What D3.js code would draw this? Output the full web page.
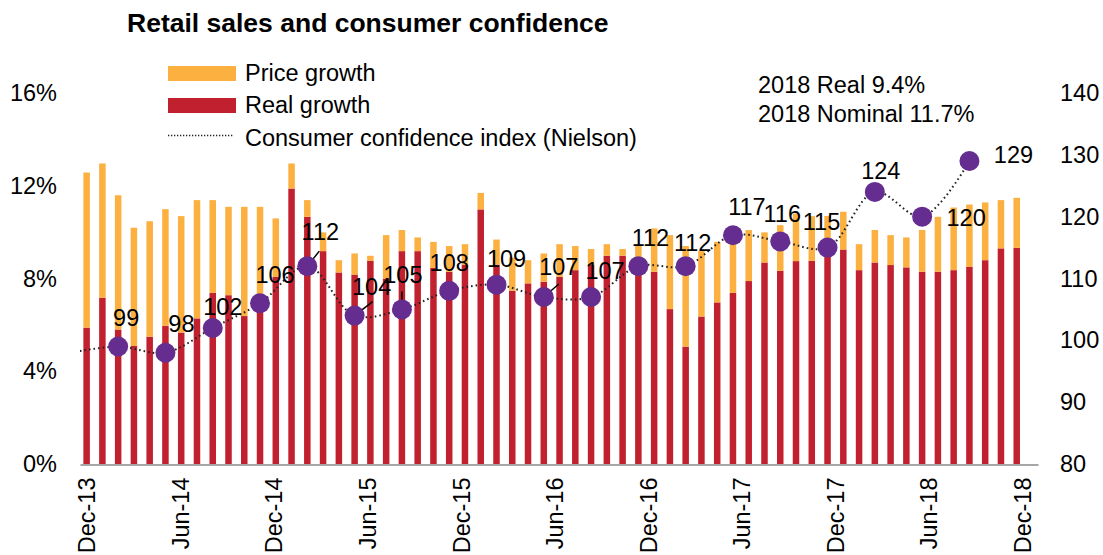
<!DOCTYPE html>
<html>
<head>
<meta charset="utf-8">
<script src="https://cdn.jsdelivr.net/npm/d3@7"></script>
<style>
  body { margin: 0; background: #fff; }
  text { font-family: "Liberation Sans", Arial, sans-serif; fill: #000; }
</style>
</head>
<body>
<svg></svg>
<script>
// chart size
const width = 1103;
const height = 555;
const plotLeft = 80;
const plotRight = 1038;
const plotBottom = 464;
const plotTop = 93;

// monthly bars, Dec-13 .. Nov-18 (%)
const months = d3.utcMonth.range(new Date(Date.UTC(2013, 11, 1)), new Date(Date.UTC(2018, 11, 1)))
    .map(d3.utcFormat("%b-%y"));

const realGrowth = [5.88, 7.17, 5.8, 5.09, 5.49, 5.95, 5.67, 6.28, 7.38, 7.28,
  6.38, 6.6, 8.07, 11.88, 10.66, 9.18, 8.26, 8.17, 8.76, 8.0,
  9.18, 9.18, 8.46, 8.29, 8.6, 10.98, 8.6, 7.47, 7.79, 7.86,
  8.07, 8.36, 8.6, 8.98, 8.98, 8.3, 8.29, 6.68, 5.06, 6.36,
  6.97, 7.38, 7.89, 8.69, 8.33, 8.75, 8.76, 9.3, 9.25, 8.36,
  8.69, 8.58, 8.48, 8.29, 8.29, 8.36, 8.5, 8.79, 9.3, 9.32];

const priceGrowth = [6.69, 5.79, 5.79, 5.1, 4.98, 5.04, 5.02, 5.1, 4.0, 3.81,
  4.71, 4.49, 2.52, 1.08, 0.72, 0.81, 0.53, 0.91, 0.22, 1.87,
  0.91, 0.59, 1.12, 1.11, 0.88, 0.71, 1.08, 1.43, 1.0, 1.22,
  1.41, 1.04, 0.67, 0.5, 0.29, 1.17, 1.87, 3.19, 4.34, 2.82,
  2.61, 2.62, 2.2, 1.3, 1.97, 2.05, 1.93, 1.4, 1.63, 1.12,
  1.4, 1.29, 1.29, 1.8, 2.37, 2.7, 2.69, 2.49, 2.08, 2.16];

// quarterly consumer confidence, plotted at mid-quarter month (Q4-13 .. Q3-18)
const confMonth = [-1, 2, 5, 8, 11, 14, 17, 20, 23, 26, 29, 32, 35, 38, 41, 44, 47, 50, 53, 56];
const confidence = [98, 99, 98, 102, 106, 112, 104, 105, 108, 109, 107, 107, 112, 112, 117, 116, 115, 124, 120, 129];

// label nudges (px) for each quarter point
const labelOffset = [null, [8, -29], [16, -29], [10, -21], [15, -28], [13, -34], [17, -29], [1, -35],
  [0, -28], [10, -26], [15, -30], [14, -26], [12, -28], [7, -23], [14, -28], [2, -28],
  [-6, -26], [6, -21], [44, 1], [44, -6]];
// leader lines for some labels
const leaders = [[5, 12, -15], [6, 18, -14], [7, 0, -18], [10, 15, -13]];

const tickLabels = ["Dec-13", "Jun-14", "Dec-14", "Jun-15", "Dec-15", "Jun-16", "Dec-16", "Jun-17", "Dec-17", "Jun-18", "Dec-18"];
const leftTicks = [0, 4, 8, 12, 16];
const rightTicks = [80, 90, 100, 110, 120, 130, 140];

const colors = { price: "#fbb040", real: "#c1202f", dot: "#662d91" };

const svg = d3.select("svg")
    .attr("width", width)
    .attr("height", height)
    .attr("viewBox", [0, 0, width, height]);

// scales
const x = d3.scaleLinear([-0.42, 60.35], [plotLeft, plotRight]);
const yL = d3.scaleLinear([0, 16], [plotBottom, plotTop]);
const yR = d3.scaleLinear([80, 140], [plotBottom, plotTop]);
const barW = 6.5;
// date labels sit on a slightly tighter spacing than the bars
const xTick = d3.scaleLinear([0, 60], [x(0), x(0) + (x(60) - x(0)) * 0.989]);

// bars
const bars = svg.append("g");
bars.selectAll(".real")
  .data(realGrowth)
  .join("rect")
    .attr("x", (d, i) => x(i) - barW / 2)
    .attr("y", d => yL(d))
    .attr("width", barW)
    .attr("height", d => yL(0) - yL(d))
    .attr("fill", colors.real);
bars.selectAll(".price")
  .data(priceGrowth)
  .join("rect")
    .attr("x", (d, i) => x(i) - barW / 2)
    .attr("y", (d, i) => yL(d + realGrowth[i]))
    .attr("width", barW)
    .attr("height", (d, i) => yL(realGrowth[i]) - yL(d + realGrowth[i]))
    .attr("fill", colors.price);

// x-axis line
svg.append("g")
    .attr("transform", `translate(0,${plotBottom + 0.5})`)
    .call(d3.axisBottom(x).tickValues([]).tickSizeOuter(0))
    .call(g => g.select(".domain").attr("stroke", "#a6a6a6").attr("stroke-width", 2));

// x tick labels
svg.append("g")
    .attr("transform", `translate(0,${plotBottom + 0.5})`)
    .call(d3.axisBottom(xTick).tickValues(d3.range(0, 61, 6)).tickFormat((d, i) => tickLabels[i]).tickSize(0))
    .call(g => g.select(".domain").remove())
    .call(g => g.selectAll(".tick text")
        .attr("font-size", 23.5)
        .attr("text-anchor", "end")
        .attr("transform", "rotate(-90)")
        .attr("x", -13)
        .attr("y", 0)
        .attr("dy", "0.35em"));

// left axis
svg.append("g")
    .attr("transform", `translate(${plotLeft},0)`)
    .call(d3.axisLeft(yL).tickValues(leftTicks).tickFormat(d => d + "%").tickSize(0).tickPadding(23))
    .call(g => g.select(".domain").remove())
    .call(g => g.selectAll("text").attr("font-size", 23.5));

// right axis
svg.append("g")
    .attr("transform", `translate(${plotRight},0)`)
    .call(d3.axisRight(yR).tickValues(rightTicks).tickSize(0).tickPadding(22))
    .call(g => g.select(".domain").remove())
    .call(g => g.selectAll("text").attr("font-size", 23.5));

// confidence line
svg.append("clipPath").attr("id", "plot")
  .append("rect").attr("x", plotLeft).attr("y", 0).attr("width", plotRight - plotLeft).attr("height", height);

const line = d3.line()
    .x((d, i) => x(confMonth[i]))
    .y(d => yR(d))
    .curve(d3.curveCatmullRom.alpha(0.5));

svg.append("path")
    .attr("clip-path", "url(#plot)")
    .attr("d", line(confidence))
    .attr("fill", "none")
    .attr("stroke", "#222")
    .attr("stroke-width", 2)
    .attr("stroke-dasharray", "1.6 3");

// leaders
svg.append("g").selectAll("line")
  .data(leaders)
  .join("line")
    .attr("x1", d => x(confMonth[d[0]]))
    .attr("y1", d => yR(confidence[d[0]]))
    .attr("x2", d => x(confMonth[d[0]]) + d[1])
    .attr("y2", d => yR(confidence[d[0]]) + d[2])
    .attr("stroke", "#000")
    .attr("stroke-width", 1.5);

const pts = confidence.map((v, i) => ({ v, m: confMonth[i], off: labelOffset[i] })).filter(d => d.m >= 0);

svg.append("g").selectAll("circle")
  .data(pts)
  .join("circle")
    .attr("cx", d => x(d.m))
    .attr("cy", d => yR(d.v))
    .attr("r", 10)
    .attr("fill", colors.dot);

svg.append("g").selectAll("text")
  .data(pts)
  .join("text")
    .attr("x", d => x(d.m) + d.off[0])
    .attr("y", d => yR(d.v) + d.off[1])
    .attr("dy", "0.35em")
    .attr("text-anchor", "middle")
    .attr("font-size", 23.5)
    .text(d => d.v);

// title
svg.append("text")
    .attr("x", 127)
    .attr("y", 32)
    .attr("font-size", 26.5)
    .attr("font-weight", "bold")
    .text("Retail sales and consumer confidence");

// legend
const legend = svg.append("g");
legend.append("rect").attr("x", 168).attr("y", 66).attr("width", 68).attr("height", 15).attr("fill", colors.price);
legend.append("rect").attr("x", 168).attr("y", 98).attr("width", 68).attr("height", 15).attr("fill", colors.real);
legend.append("line").attr("x1", 168).attr("x2", 234).attr("y1", 135.5).attr("y2", 135.5)
    .attr("stroke", "#222").attr("stroke-width", 1.5).attr("stroke-dasharray", "1.3 1.7");
[["Price growth", 73], ["Real growth", 105], ["Consumer confidence index (Nielson)", 138]].forEach(([t, yy]) => {
  legend.append("text").attr("x", 245).attr("y", yy).attr("dy", "0.35em").attr("font-size", 23.5).text(t);
});

// 2018 note
svg.append("text").attr("x", 758).attr("y", 85).attr("dy", "0.35em").attr("font-size", 23.5).text("2018 Real 9.4%");
svg.append("text").attr("x", 758).attr("y", 114).attr("dy", "0.35em").attr("font-size", 23.5).text("2018 Nominal 11.7%");
</script>
</body>
</html>
